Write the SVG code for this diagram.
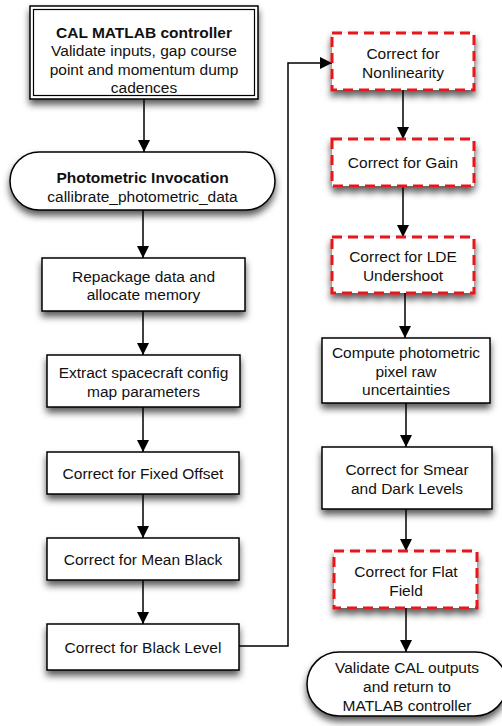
<svg xmlns="http://www.w3.org/2000/svg" width="502" height="726" viewBox="0 0 502 726">
  <defs>
    <filter id="shadow" x="-20%" y="-20%" width="140%" height="170%">
      <feDropShadow dx="0" dy="5" stdDeviation="3.5" flood-color="#000" flood-opacity="0.65"/>
    </filter>
    <marker id="arrow" viewBox="0 0 12 12" refX="12" refY="6" markerWidth="12" markerHeight="12" markerUnits="userSpaceOnUse" orient="auto">
      <path d="M0,0 L12,6 L0,12 Z" fill="#000"/>
    </marker>
  </defs>
  <style>
    .box { fill: #fff; stroke: #000; stroke-width: 1.5; }
    .dash { fill: #fff; stroke: #e8141b; stroke-width: 3; stroke-dasharray: 10 6; }
    .plain { fill: none; stroke: #000; stroke-width: 1.2; }
    text { font-family: "Liberation Sans", Arial, sans-serif; font-size: 15.5px; fill: #111; text-anchor: middle; }
    .b { font-weight: bold; }
    .conn { fill: none; stroke: #000; stroke-width: 1.5; marker-end: url(#arrow); }
  </style>

  <rect width="502" height="726" fill="#fff"/>

  <!-- connectors -->
  <g id="connectors">
    <line class="conn" x1="144" y1="99" x2="144" y2="152"/>
    <line class="conn" x1="143" y1="210" x2="143" y2="258"/>
    <line class="conn" x1="143" y1="311" x2="143" y2="355"/>
    <line class="conn" x1="143" y1="407" x2="143" y2="452"/>
    <line class="conn" x1="143" y1="494" x2="143" y2="538"/>
    <line class="conn" x1="143" y1="580" x2="143" y2="624"/>
    <polyline class="conn" points="239,646 288,646 288,63 332,63"/>
    <line class="conn" x1="403" y1="90" x2="403" y2="139"/>
    <line class="conn" x1="403" y1="186" x2="403" y2="237"/>
    <line class="conn" x1="405" y1="293" x2="405" y2="338"/>
    <line class="conn" x1="406" y1="403" x2="406" y2="447"/>
    <line class="conn" x1="406" y1="509" x2="406" y2="551"/>
    <line class="conn" x1="406" y1="608" x2="406" y2="652"/>
  </g>

  <!-- left column -->
  <g id="cal-controller">
    <rect class="box" x="30" y="6" width="228" height="93" filter="url(#shadow)"/>
    <rect class="plain" x="33.5" y="9.5" width="221" height="86"/>
    <text class="b" x="144" y="37.5">CAL MATLAB controller</text>
    <text x="144" y="56">Validate inputs, gap course</text>
    <text x="144" y="74.5">point and momentum dump</text>
    <text x="144" y="92.5">cadences</text>
  </g>

  <g id="photometric-invocation">
    <rect class="box" x="10" y="152" width="265" height="58" rx="29" filter="url(#shadow)"/>
    <text class="b" x="142.5" y="183">Photometric Invocation</text>
    <text x="142.5" y="202">callibrate_photometric_data</text>
  </g>

  <g id="repackage">
    <rect class="box" x="42" y="258" width="203" height="53" filter="url(#shadow)"/>
    <text x="143.5" y="282">Repackage data and</text>
    <text x="143.5" y="300">allocate memory</text>
  </g>

  <g id="extract-config">
    <rect class="box" x="47" y="355" width="193" height="52" filter="url(#shadow)"/>
    <text x="143.5" y="378">Extract spacecraft config</text>
    <text x="143.5" y="397">map parameters</text>
  </g>

  <g id="fixed-offset">
    <rect class="box" x="47" y="452" width="192" height="42" filter="url(#shadow)"/>
    <text x="143" y="479">Correct for Fixed Offset</text>
  </g>

  <g id="mean-black">
    <rect class="box" x="47" y="538" width="192" height="42" filter="url(#shadow)"/>
    <text x="143" y="565">Correct for Mean Black</text>
  </g>

  <g id="black-level">
    <rect class="box" x="47" y="624" width="192" height="46" filter="url(#shadow)"/>
    <text x="143" y="653">Correct for Black Level</text>
  </g>

  <!-- right column -->
  <g id="nonlinearity">
    <rect class="dash" x="332" y="33" width="142" height="57" filter="url(#shadow)"/>
    <text x="403" y="59">Correct for</text>
    <text x="403" y="78">Nonlinearity</text>
  </g>

  <g id="gain">
    <rect class="dash" x="332" y="139" width="142" height="47" filter="url(#shadow)"/>
    <text x="403" y="168">Correct for Gain</text>
  </g>

  <g id="lde-undershoot">
    <rect class="dash" x="332" y="237" width="142" height="56" filter="url(#shadow)"/>
    <text x="403" y="262">Correct for LDE</text>
    <text x="403" y="281">Undershoot</text>
  </g>

  <g id="raw-uncertainties">
    <rect class="box" x="322" y="338" width="168" height="65" filter="url(#shadow)"/>
    <text x="406" y="358">Compute photometric</text>
    <text x="406" y="377">pixel raw</text>
    <text x="406" y="395">uncertainties</text>
  </g>

  <g id="smear-dark">
    <rect class="box" x="322" y="447" width="170" height="62" filter="url(#shadow)"/>
    <text x="407" y="475">Correct for Smear</text>
    <text x="407" y="494">and Dark Levels</text>
  </g>

  <g id="flat-field">
    <rect class="dash" x="334" y="551" width="143" height="57" filter="url(#shadow)"/>
    <text x="406" y="577">Correct for Flat</text>
    <text x="406" y="596">Field</text>
  </g>

  <g id="validate-outputs">
    <rect class="box" x="307" y="652" width="200" height="64" rx="32" filter="url(#shadow)"/>
    <text x="407" y="673">Validate CAL outputs</text>
    <text x="407" y="692">and return to</text>
    <text x="407" y="711">MATLAB controller</text>
  </g>
</svg>
